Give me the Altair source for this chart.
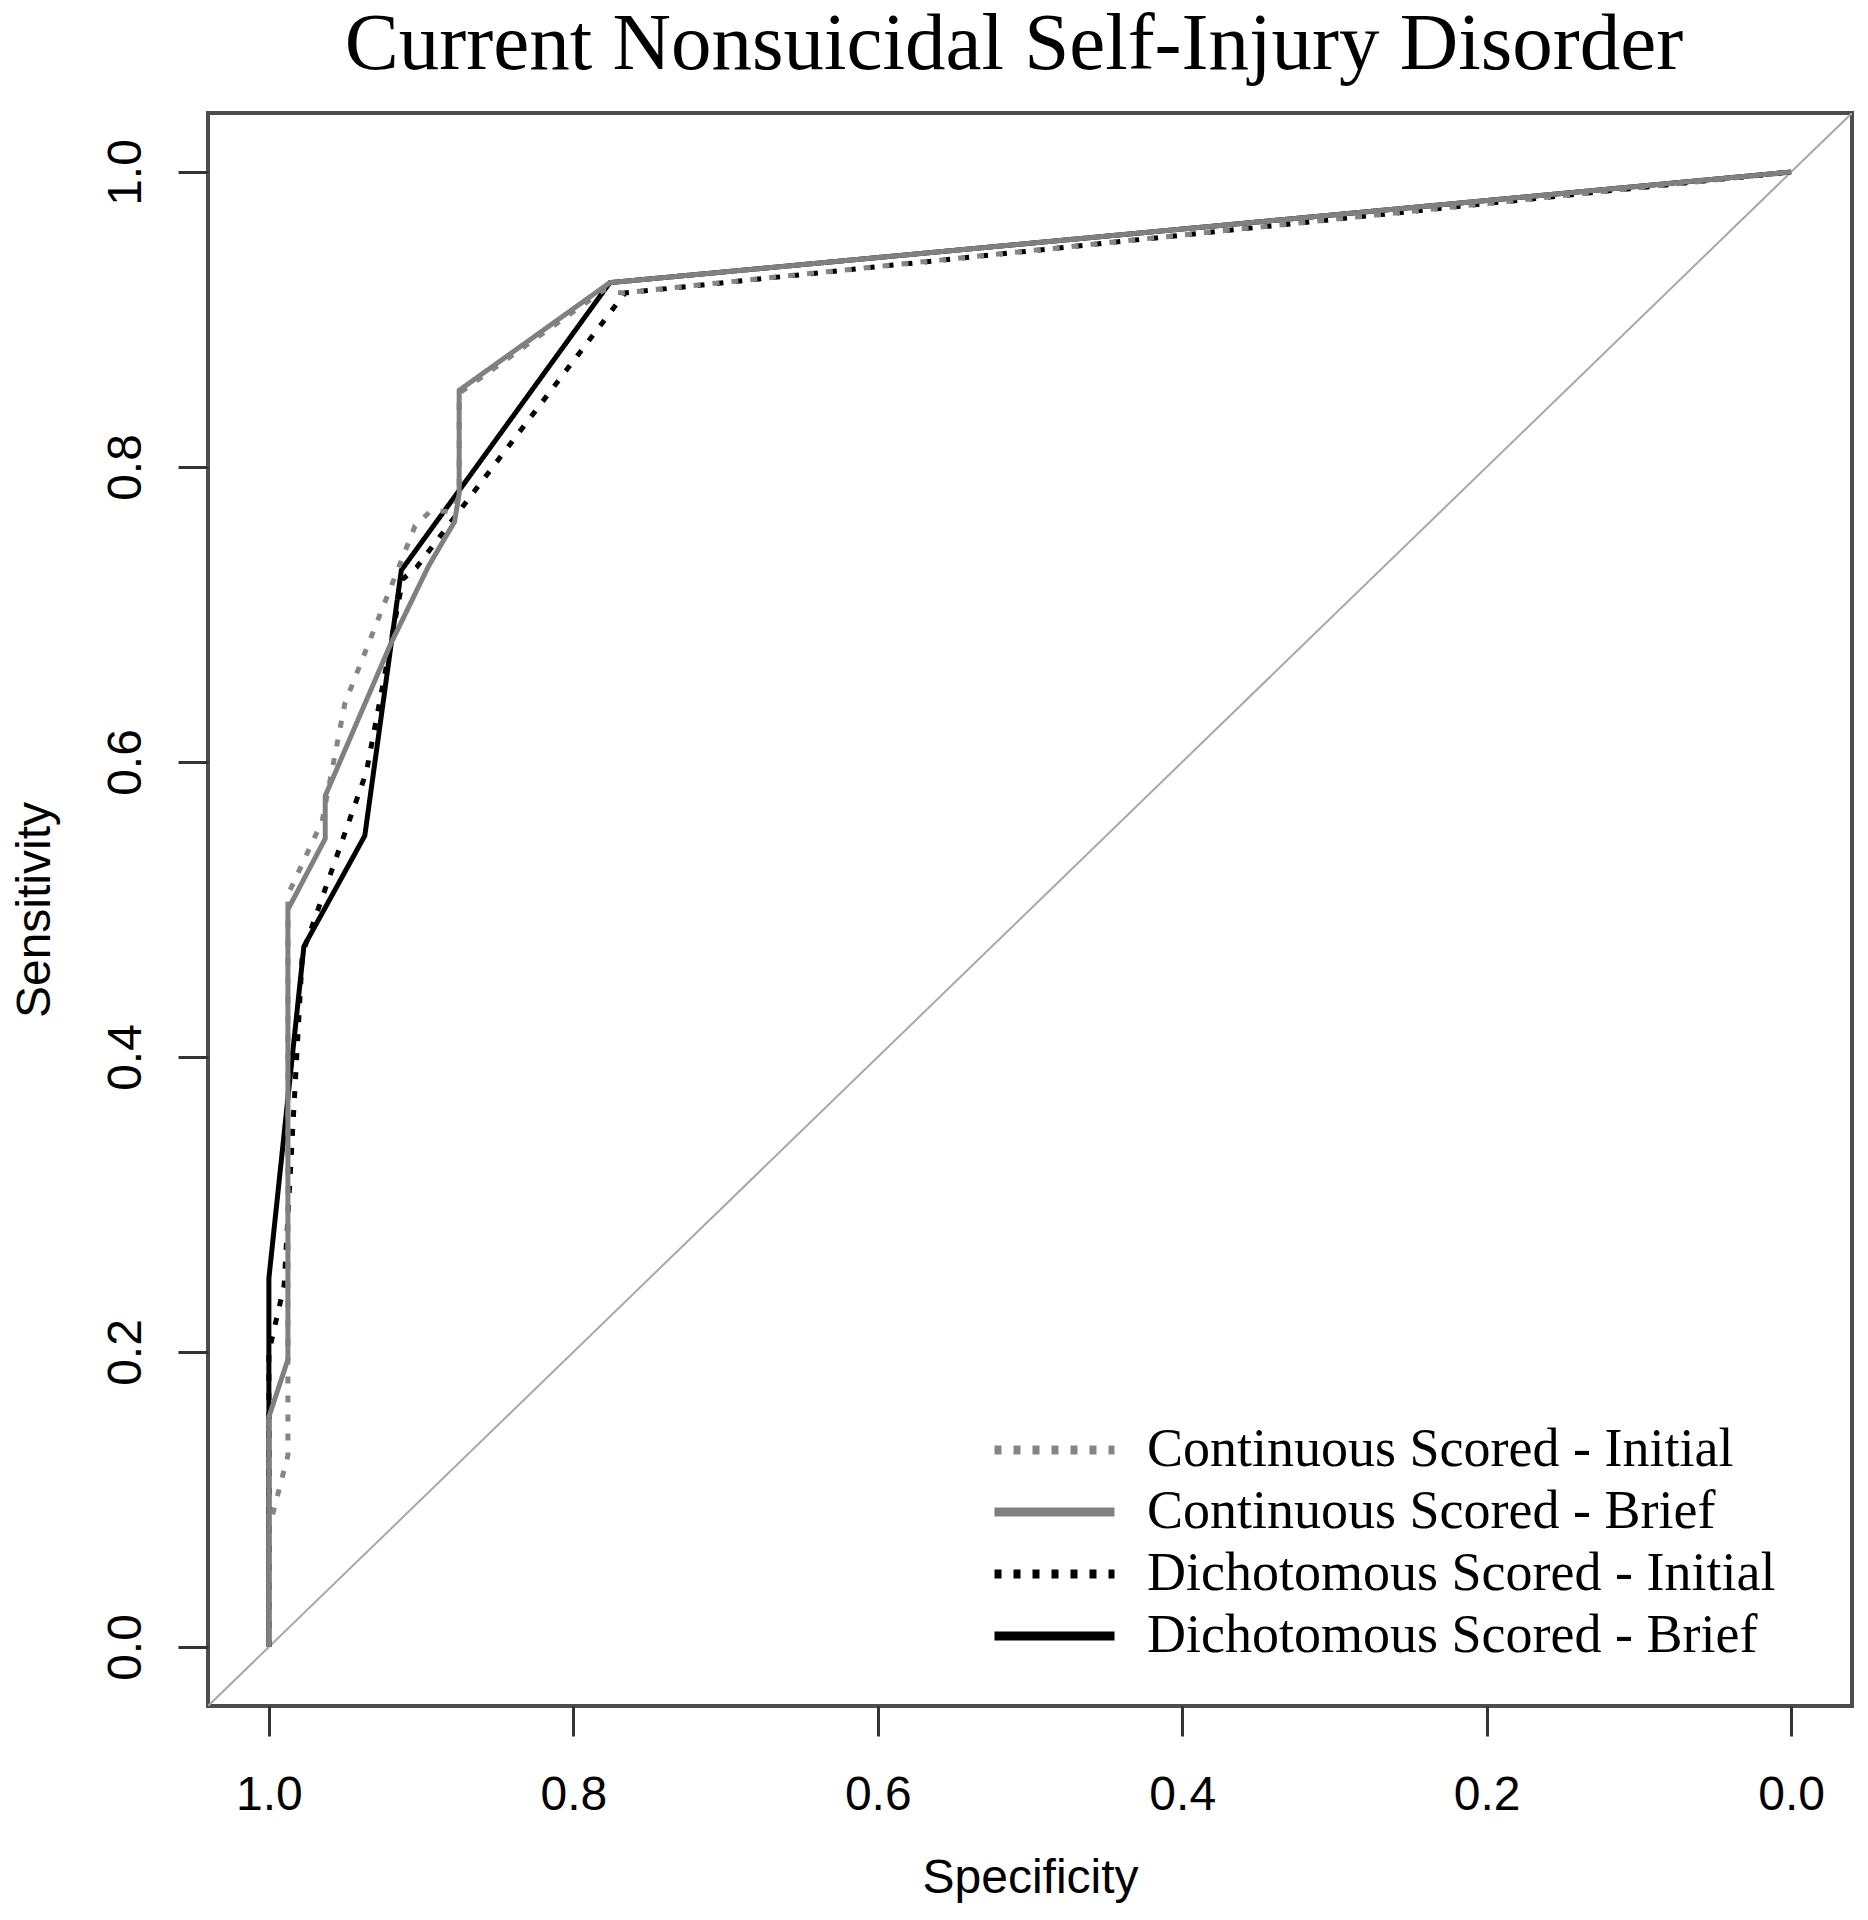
import altair as alt
import pandas as pd

# ---------------- data ----------------
series_names = [
    "Continuous Scored - Initial",
    "Continuous Scored - Brief",
    "Dichotomous Scored - Initial",
    "Dichotomous Scored - Brief",
]

cont_init_spec = [1.0, 1.0, 0.9875, 0.9875, 0.965, 0.95, 0.904, 0.894, 0.88, 0.875, 0.875, 0.78, 0.768, 0.0]
cont_init_sens = [0.0, 0.08, 0.13, 0.51, 0.56, 0.64, 0.76, 0.77, 0.77, 0.78, 0.85, 0.92, 0.918, 1.0]

cont_brief_spec = [1.0, 1.0, 0.9875, 0.9875, 0.963, 0.963, 0.92, 0.895, 0.878, 0.875, 0.875, 0.776, 0.0]
cont_brief_sens = [0.0, 0.156, 0.195, 0.50, 0.548, 0.577, 0.68, 0.733, 0.763, 0.782, 0.852, 0.925, 1.0]

dich_init_spec = [1.0, 1.0, 0.99, 0.978, 0.936, 0.912, 0.903, 0.766, 0.0]
dich_init_sens = [0.0, 0.2, 0.245, 0.47, 0.593, 0.724, 0.732, 0.918, 1.0]

dich_brief_spec = [1.0, 1.0, 1.0, 0.977, 0.937, 0.913, 0.776, 0.0]
dich_brief_sens = [0.0, 0.156, 0.25, 0.475, 0.55, 0.73, 0.925, 1.0]

diag_spec = [1.04, -0.04]

tick_values = [0.0, 0.2, 0.4, 0.6, 0.8, 1.0]

line_colors = ["#858585", "#808080", "#000000", "#000000"]
line_dashes = [[7, 12], [1, 0], [7, 12], [1, 0]]

# drawing order (dichotomous curves underneath the continuous ones)
draw_order = [2, 3, 0, 1]

# ---------------- build tables ----------------
all_spec = [cont_init_spec, cont_brief_spec, dich_init_spec, dich_brief_spec]
all_sens = [cont_init_sens, cont_brief_sens, dich_init_sens, dich_brief_sens]
rows = []
for k in draw_order:
    for i, (a, b) in enumerate(zip(all_spec[k], all_sens[k])):
        rows.append({"series": series_names[k], "idx": i, "spec": a, "sens": b})
df = pd.DataFrame(rows)

diag_df = pd.DataFrame({"spec": diag_spec, "sens": [1 - s for s in diag_spec]})

xscale = alt.Scale(domain=[-0.04, 1.04], reverse=True, nice=False, zero=False)
yscale = alt.Scale(domain=[-0.04, 1.04], nice=False, zero=False)

xaxis = alt.Axis(
    values=tick_values, format=".1f", domain=False, grid=False,
    tickSize=30, tickWidth=3, tickColor="#333333",
    labelFont="Liberation Sans", labelFontSize=48, labelColor="black",
    labelPadding=35, labelFlush=False,
    titleFont="Liberation Sans", titleFontSize=48, titleFontWeight="normal",
    titleColor="black", titlePadding=35,
)
yaxis = alt.Axis(
    values=tick_values, format=".1f", domain=False, grid=False,
    tickSize=30, tickWidth=3, tickColor="#333333",
    labelFont="Liberation Sans", labelFontSize=48, labelColor="black",
    labelAngle=270, labelAlign="center", labelBaseline="bottom",
    labelPadding=28, labelFlush=False,
    titleFont="Liberation Sans", titleFontSize=48, titleFontWeight="normal",
    titleColor="black", titlePadding=43,
)

legend = alt.Legend(
    title=None, orient="none", legendX=782, legendY=1306,
    symbolType="stroke", symbolSize=14400, symbolStrokeWidth=9,
    labelFont="Liberation Serif", labelFontSize=54, labelColor="black",
    labelLimit=2000, labelOffset=28, rowPadding=0, clipHeight=62, padding=0,
)

diag = alt.Chart(diag_df).mark_line(color="#a8a8a8", strokeWidth=2, clip=True).encode(
    x=alt.X("spec:Q", scale=xscale, axis=xaxis, title="Specificity"),
    y=alt.Y("sens:Q", scale=yscale, axis=yaxis, title="Sensitivity"),
)

lines = alt.Chart(df).mark_line(strokeWidth=5, strokeCap="butt", clip=True).encode(
    x=alt.X("spec:Q", scale=xscale, axis=xaxis, title="Specificity"),
    y=alt.Y("sens:Q", scale=yscale, axis=yaxis, title="Sensitivity"),
    color=alt.Color("series:N", scale=alt.Scale(domain=series_names, range=line_colors), legend=legend),
    strokeDash=alt.StrokeDash("series:N", scale=alt.Scale(domain=series_names, range=line_dashes), legend=legend),
    order=alt.Order("idx:Q"),
)

chart = (
    alt.layer(diag, lines)
    .properties(
        width=1644,
        height=1593,
        autosize=alt.AutoSizeParams(type="none"),
        padding={"left": 200, "top": 105, "right": 8, "bottom": 200},
        title=alt.TitleParams(
            "Current Nonsuicidal Self-Injury Disorder",
            font="Liberation Serif", fontSize=81, fontWeight="normal",
            color="black", anchor="middle", offset=27, dx=-16,
        ),
    )
    .configure(background="white")
    .configure_view(stroke="#4d4d4d", strokeWidth=4)
)

chart.save("out.html", embed_options={"renderer": "svg", "actions": False})
